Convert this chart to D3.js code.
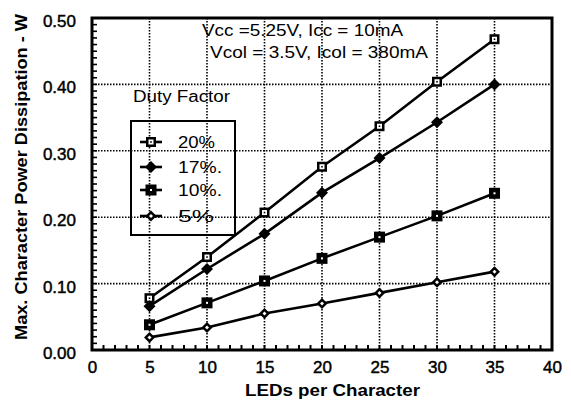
<!DOCTYPE html>
<html><head><meta charset="utf-8">
<script src="https://cdn.jsdelivr.net/npm/d3@7"></script>
<style>body{margin:0;background:#fff}svg{display:block}text{font-family:"Liberation Sans",Arial,sans-serif;fill:#000}</style>
</head><body><svg id="c" width="571" height="405"></svg>
<script>
const leds = [5,10,15,20,25,30,35];
const duty20 = [0.078,0.140,0.207,0.276,0.337,0.404,0.468];
const duty17 = [0.066,0.122,0.175,0.237,0.289,0.343,0.400];
const duty10 = [0.038,0.071,0.104,0.138,0.170,0.202,0.236];
const duty5  = [0.019,0.034,0.055,0.070,0.086,0.102,0.118];
const xTicks = [0,5,10,15,20,25,30,35,40];
const yTicks = [0,0.1,0.2,0.3,0.4,0.5];
const seriesNames = ["20%","17%.","10%.","5%"];
const seriesData = [duty20,duty17,duty10,duty5];
const markers = ["osquare","diamond","fsquare","odiamond"];

const svg = d3.select("#c");
const x = d3.scaleLinear().domain([0,40]).range([92,552]);
const y = d3.scaleLinear().domain([0,0.5]).range([350,18]);

// grid
const g = svg.append("g");
g.selectAll(".gx").data(xTicks.slice(1,-1)).join("line")
 .attr("x1",d=>x(d)).attr("x2",d=>x(d)).attr("y1",y(0.5)).attr("y2",y(0))
 .attr("stroke","#000").attr("stroke-width",1.6).attr("stroke-dasharray","1.5,1.5");
g.selectAll(".gy").data(yTicks.slice(1,-1)).join("line")
 .attr("y1",d=>y(d)).attr("y2",d=>y(d)).attr("x1",x(0)).attr("x2",x(40))
 .attr("stroke","#000").attr("stroke-width",1.6).attr("stroke-dasharray","1.5,1.5");

// minor ticks inside
g.selectAll(".mx").data(d3.range(1,40)).join("line")
 .attr("x1",d=>x(d)).attr("x2",d=>x(d)).attr("y1",y(0)).attr("y2",y(0)-5)
 .attr("stroke","#000").attr("stroke-width",2);
g.selectAll(".my").data(d3.range(1,50).map(i=>i/100)).join("line")
 .attr("y1",d=>y(d)).attr("y2",d=>y(d)).attr("x1",x(0)).attr("x2",x(0)+5)
 .attr("stroke","#000").attr("stroke-width",1.6);

// frame
svg.append("rect").attr("x",x(0)).attr("y",y(0.5)).attr("width",x(40)-x(0)).attr("height",y(0)-y(0.5))
 .attr("fill","none").attr("stroke","#000").attr("stroke-width",3);

const xa = svg.append("g").attr("transform",`translate(0,${y(0)})`)
 .call(d3.axisBottom(x).tickValues(xTicks).tickFormat(d3.format("d")).tickSize(0).tickPadding(11));
xa.select(".domain").remove();
xa.selectAll("text").attr("font-size",17).attr("font-family","Liberation Sans, Arial").attr("fill","#000")
 .attr("stroke","#000").attr("stroke-width",0.45);
const ya = svg.append("g").attr("transform",`translate(${x(0)},3)`)
 .call(d3.axisLeft(y).tickValues(yTicks).tickFormat(d3.format(".2f")).tickSize(0).tickPadding(16));
ya.select(".domain").remove();
ya.selectAll("text").attr("font-size",17).attr("font-family","Liberation Sans, Arial").attr("fill","#000")
 .attr("stroke","#000").attr("stroke-width",0.45);

svg.append("text").attr("x",245).attr("y",396)
 .attr("font-size",16).attr("font-weight","bold").attr("textLength",175).attr("lengthAdjust","spacingAndGlyphs")
 .text("LEDs per Character");
svg.append("text").attr("transform","translate(27,340) rotate(-90)")
 .attr("font-size",16).attr("font-weight","bold").attr("textLength",326).attr("lengthAdjust","spacingAndGlyphs")
 .text("Max. Character Power Dissipation - W");

svg.append("text").attr("x",202).attr("y",36).attr("font-size",16)
 .attr("textLength",201).attr("lengthAdjust","spacingAndGlyphs").text("Vcc =5.25V, Icc = 10mA");
svg.append("text").attr("x",210).attr("y",58).attr("font-size",16)
 .attr("textLength",218).attr("lengthAdjust","spacingAndGlyphs").text("Vcol = 3.5V, Icol = 380mA");

function marker(sel, type){
  if(type==="osquare"){
    sel.append("rect").attr("x",-5).attr("y",-5).attr("width",10).attr("height",10).attr("fill","#000");
    sel.append("rect").attr("x",-2.5).attr("y",-2.5).attr("width",5).attr("height",5).attr("fill","#fff");
    sel.append("rect").attr("x",-0.8).attr("y",-0.8).attr("width",1.6).attr("height",1.6).attr("fill","#000");
  } else if(type==="fsquare"){
    sel.append("rect").attr("x",-5.5).attr("y",-5.5).attr("width",11).attr("height",11).attr("fill","#000");
    sel.append("rect").attr("x",-1).attr("y",-1).attr("width",2).attr("height",2).attr("fill","#fff");
  } else if(type==="diamond"){
    sel.append("path").attr("d","M0,-6L6,0L0,6L-6,0Z").attr("fill","#000");
  } else {
    sel.append("path").attr("d","M0,-5.5L5.5,0L0,5.5L-5.5,0Z").attr("fill","#000");
    sel.append("path").attr("d","M0,-2L2,0L0,2L-2,0Z").attr("fill","#fff");
  }
}

const line = d3.line().x((d,i)=>x(leds[i])).y(d=>y(d));
seriesData.forEach((s,k)=>{
  svg.append("path").attr("d",line(s)).attr("fill","none").attr("stroke","#000").attr("stroke-width",2.6);
});
seriesData.forEach((s,k)=>{
  s.forEach((v,i)=>{
    const m = svg.append("g").attr("transform",`translate(${x(leds[i])},${y(v)})`);
    marker(m, markers[k]);
  });
});

// legend
svg.append("text").attr("x",133).attr("y",102).attr("font-size",16)
 .attr("textLength",97).attr("lengthAdjust","spacingAndGlyphs").text("Duty Factor");
svg.append("rect").attr("x",131).attr("y",121).attr("width",104).attr("height",114)
 .attr("fill","none").attr("stroke","#000").attr("stroke-width",2);
const ly = [142,167,190,216];
const lw = [37,44,44,36];
seriesNames.forEach((n,k)=>{
  svg.append("line").attr("x1",140).attr("x2",162).attr("y1",ly[k]).attr("y2",ly[k]).attr("stroke","#000").attr("stroke-width",2.6);
  marker(svg.append("g").attr("transform",`translate(151,${ly[k]})`), markers[k]);
  svg.append("text").attr("x",178).attr("y",ly[k]+6).attr("font-size",16)
   .attr("textLength",lw[k]).attr("lengthAdjust","spacingAndGlyphs").text(n);
});
</script></body></html>
